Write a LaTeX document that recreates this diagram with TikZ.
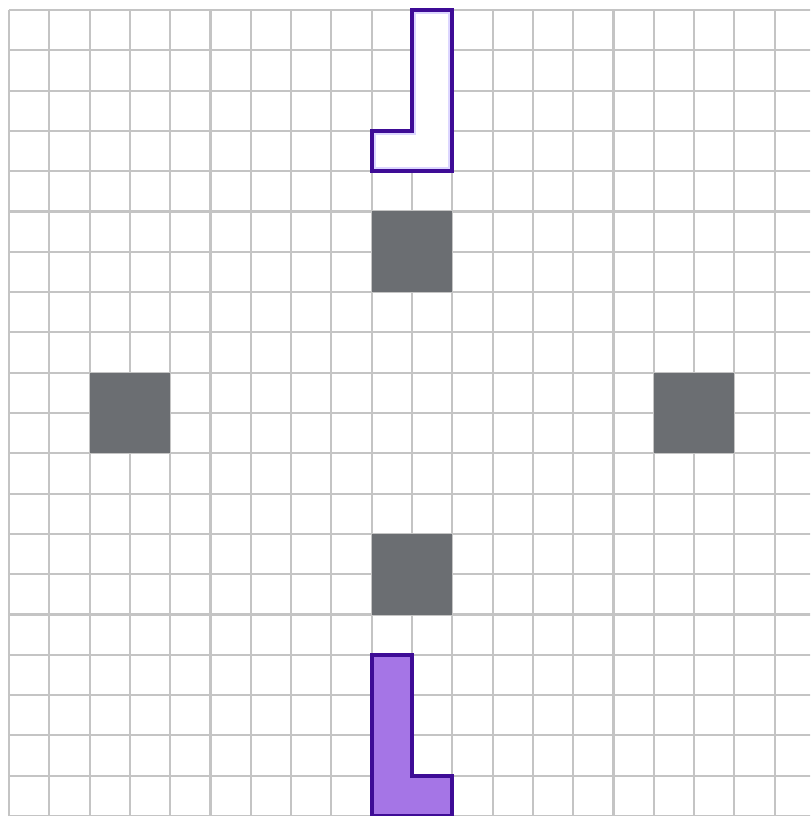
\documentclass[tikz,border=0pt]{standalone}
\begin{document}
\begin{tikzpicture}[x=1cm,y=-1cm,
  gridline/.style={draw=gridgray,line width=1.5pt},
  block/.style={fill=blockgray},
  shapeL/.style={draw=darkpurple,line width=2.6pt,line join=miter,fill=lightpurple},
  shapeJ/.style={draw=darkpurple,line width=2.6pt,line join=miter,fill=white},
  halo/.style={draw=halopurple,line width=6pt,line join=miter}]
\definecolor{gridgray}{HTML}{C4C4C4}
\definecolor{blockgray}{HTML}{6B6E72}
\definecolor{darkpurple}{HTML}{3E0C96}
\definecolor{lightpurple}{HTML}{A575E6}
\definecolor{halopurple}{HTML}{DCD6FF}
\useasboundingbox (0,0) rectangle (20.099,20.248);
\clip (0,0) rectangle (20.099,20.248);
\fill[white] (0,0) rectangle (20.099,20.248);
\begin{scope}[shift={(0.223,0.248)}]
  \foreach \i in {0,...,20} {\draw[gridline] (\i,0) -- (\i,21);}
  \foreach \j in {0,...,20} {\draw[gridline] (0,\j) -- (21,\j);}
  % gray blocks
  \path[block] (9,5) rectangle (11,7);
  \path[block] (2,9) rectangle (4,11);
  \path[block] (16,9) rectangle (18,11);
  \path[block] (9,13) rectangle (11,15);
  % top J outline
  \path[shapeJ] (10,0) -- (11,0) -- (11,4) -- (9,4) -- (9,3) -- (10,3) -- cycle;
  \begin{scope}
    \clip (10,0) -- (11,0) -- (11,4) -- (9,4) -- (9,3) -- (10,3) -- cycle;
    \draw[halo] (10,0) -- (11,0) -- (11,4) -- (9,4) -- (9,3) -- (10,3) -- cycle;
  \end{scope}
  \draw[shapeJ,fill=none] (10,0) -- (11,0) -- (11,4) -- (9,4) -- (9,3) -- (10,3) -- cycle;
  % bottom L
  \draw[shapeL] (9,16) -- (10,16) -- (10,19) -- (11,19) -- (11,20) -- (9,20) -- cycle;
\end{scope}
\end{tikzpicture}
\end{document}
